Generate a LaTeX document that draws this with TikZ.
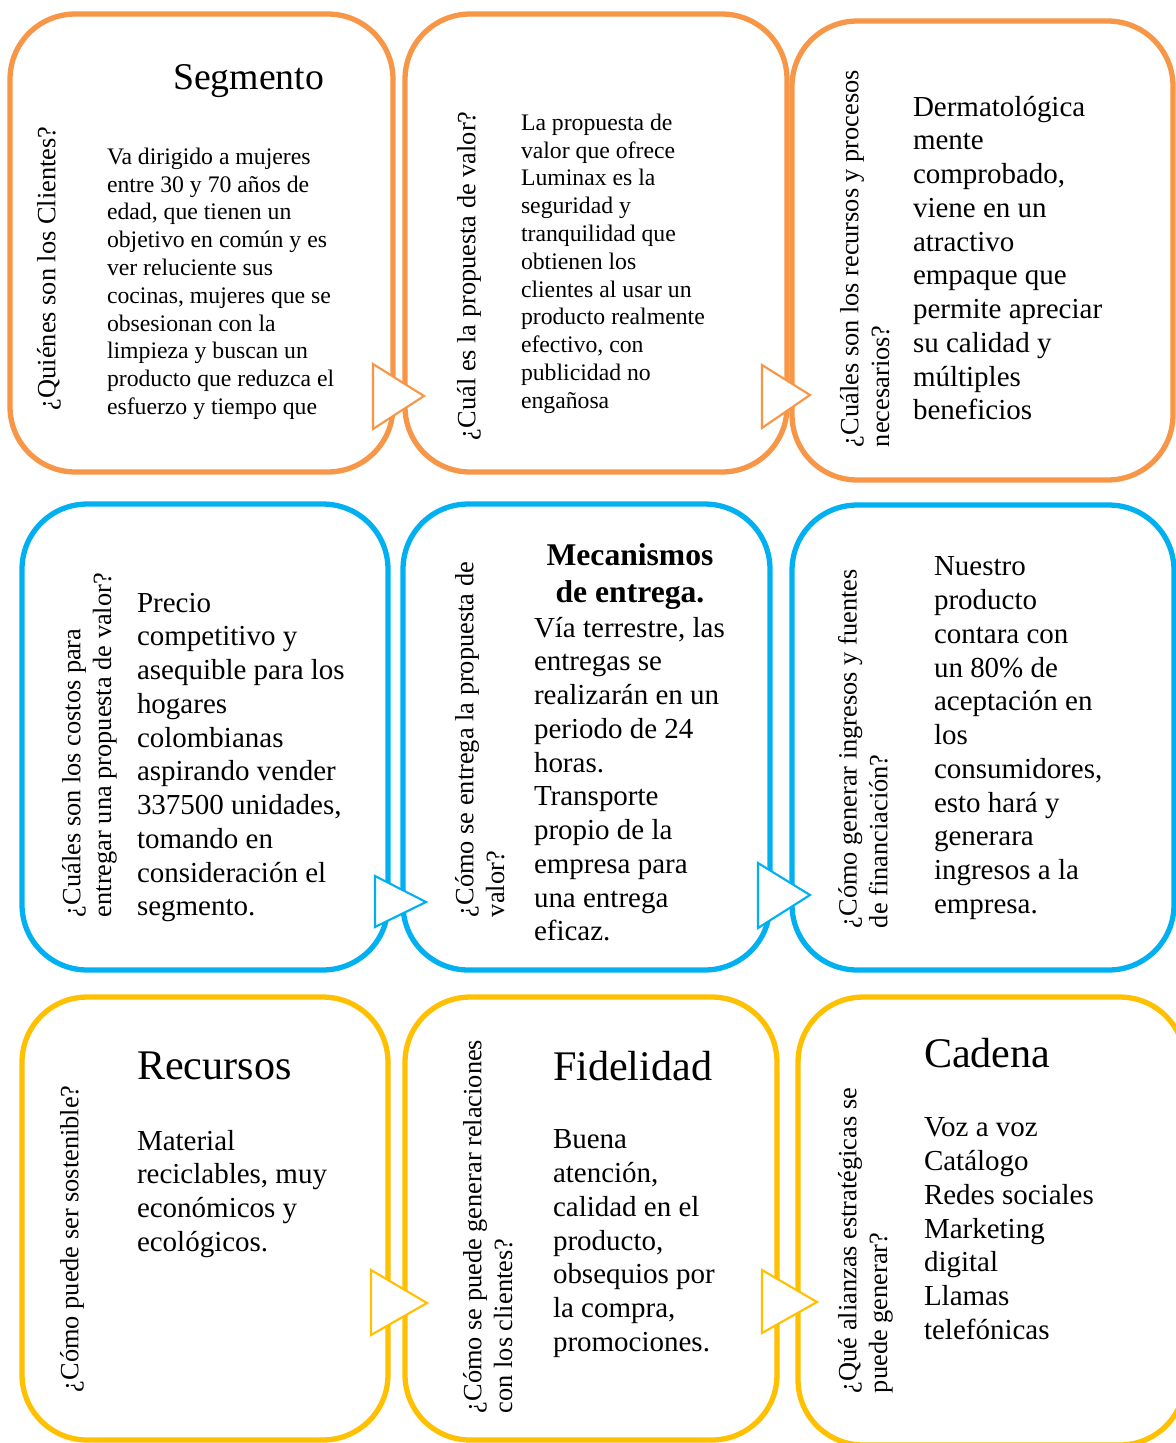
\documentclass[tikz,border=0pt]{standalone}
\usepackage{fontspec}
\setmainfont{Liberation Serif}
\usetikzlibrary{calc}
\definecolor{naranja}{HTML}{F79646}
\definecolor{celeste}{HTML}{00B0F0}
\definecolor{dorado}{HTML}{FFC000}
\newcommand{\fsz}[2]{\fontsize{#1}{#2}\selectfont}

\begin{document}
\begin{tikzpicture}[x=0.02cm,y=-0.02cm,every node/.style={inner sep=0pt,outer sep=0pt},
  caja/.style={draw=#1,line width=3pt,rounded corners=1.3cm,fill=white},
  flecha/.style={draw=#1,line width=1.2pt,fill=white,line join=miter},
  preg/.style={rotate=90,anchor=north west,align=left,font=\fsz{15}{17.5}},
  chico/.style={anchor=north west,align=left,font=\fsz{13.5}{15.8}},
  texto/.style={anchor=north west,align=left,font=\fsz{16.5}{19.2}},
  titulo/.style={anchor=west,font=\fsz{24}{28}}]
\path[use as bounding box] (0,0) rectangle (1176,1443);
\clip (0,0) rectangle (1176,1443);
\begin{scope}
\node[caja=naranja,minimum width=7.66cm,minimum height=9.16cm] (b1) at (201.5,243) {};
\node[caja=naranja,minimum width=7.64cm,minimum height=9.16cm] (b2) at (596,243) {};
\node[caja=naranja,minimum width=7.62cm,minimum height=9.18cm] (b3) at (982.5,250.5) {};
\filldraw[flecha=naranja] (373,364) -- (373,429) -- (424,396) -- cycle;
\filldraw[flecha=naranja] (762,365) -- (762,428) -- (810,395) -- cycle;
\node[preg] (q1) at (37,410) {¿Quiénes son los Clientes?};
\node[titulo,font=\fsz{21.5}{25}] (h1) at (173,81) {Segmento};
\node[chico] (t1) at (107,148) {Va dirigido a mujeres\\ entre 30 y 70 años de\\ edad, que tienen un\\ objetivo en común y es\\ ver reluciente sus\\ cocinas, mujeres que se\\ obsesionan con la\\ limpieza y buscan un\\ producto que reduzca el\\ esfuerzo y tiempo que};
\node[preg] (q2) at (457,440) {¿Cuál es la propuesta de valor?};
\node[chico] (t2) at (521,114) {La propuesta de\\ valor que ofrece\\ Luminax es la\\ seguridad y\\ tranquilidad que\\ obtienen los\\ clientes al usar un\\ producto realmente\\ efectivo, con\\ publicidad no\\ engañosa};
\node[preg] (q3) at (840,447) {¿Cuáles son los recursos y procesos\\ necesarios?};
\node[texto] (t3) at (913,96) {Dermatológica\\ mente\\ comprobado,\\ viene en un\\ atractivo\\ empaque que\\ permite apreciar\\ su calidad y\\ múltiples\\ beneficios};
\end{scope}
\begin{scope}
\node[caja=celeste,minimum width=7.32cm,minimum height=9.32cm] (b4) at (205,737) {};
\node[caja=celeste,minimum width=7.34cm,minimum height=9.32cm] (b5) at (586.5,737) {};
\node[caja=celeste,minimum width=7.64cm,minimum height=9.30cm] (b6) at (983,737.5) {};
\filldraw[flecha=celeste] (375,876) -- (375,927) -- (426,902) -- cycle;
\filldraw[flecha=celeste] (758,863) -- (758,928) -- (810,895) -- cycle;
\node[preg] (q4) at (62,917) {¿Cuáles son los costos para\\ entregar una propuesta de valor?};
\node[texto] (t4) at (137,593) {Precio\\ competitivo y\\ asequible para los\\ hogares\\ colombianas\\ aspirando vender\\ 337500 unidades,\\ tomando en\\ consideración el\\ segmento.};
\node[preg] (q5) at (455,917) {¿Cómo se entrega la propuesta de\\ valor?};
\node[anchor=north,align=center,font=\fsz{18}{21}\bfseries] (h5) at (630,544) {Mecanismos\\ de entrega.};
\node[texto] (t5) at (534,617) {Vía terrestre, las\\ entregas se\\ realizarán en un\\ periodo de 24\\ horas.\\ Transporte\\ propio de la\\ empresa para\\ una entrega\\ eficaz.};
\node[preg] (q6) at (838,928) {¿Cómo generar ingresos y fuentes\\ de financiación?};
\node[texto] (t6) at (934,557) {Nuestro\\ producto\\ contara con\\ un 80\% de\\ aceptación en\\ los\\ consumidores,\\ esto hará y\\ generara\\ ingresos a la\\ empresa.};
\end{scope}
\begin{scope}
\node[caja=dorado,minimum width=7.32cm,minimum height=8.86cm] (b7) at (205,1218.5) {};
\node[caja=dorado,minimum width=7.44cm,minimum height=8.86cm] (b8) at (591,1218.5) {};
\node[caja=dorado,minimum width=7.74cm,minimum height=8.96cm] (b9) at (991.5,1221) {};
\filldraw[flecha=dorado] (371,1270) -- (371,1335) -- (427,1303) -- cycle;
\filldraw[flecha=dorado] (762,1270) -- (762,1333) -- (817,1302) -- cycle;
\node[preg] (q7) at (60,1392) {¿Cómo puede ser sostenible?};
\node[titulo] (h7) at (137,1066) {Recursos};
\node[texto] (t7) at (137,1130) {Material\\ reciclables, muy\\ económicos y\\ ecológicos.};
\node[preg] (q8) at (463,1413) {¿Cómo se puede generar relaciones\\ con los clientes?};
\node[titulo] (h8) at (553,1066) {Fidelidad};
\node[texto] (t8) at (553,1130) {Buena\\ atención,\\ calidad en el\\ producto,\\ obsequios por\\ la compra,\\ promociones.};
\node[preg] (q9) at (838,1393) {¿Qué alianzas estratégicas se\\ puede generar?};
\node[titulo] (h9) at (924,1053) {Cadena};
\node[texto] (t9) at (924,1118) {Voz a voz\\ Catálogo\\ Redes sociales\\ Marketing\\ digital\\ Llamas\\ telefónicas};
\end{scope}
\end{tikzpicture}
\end{document}
